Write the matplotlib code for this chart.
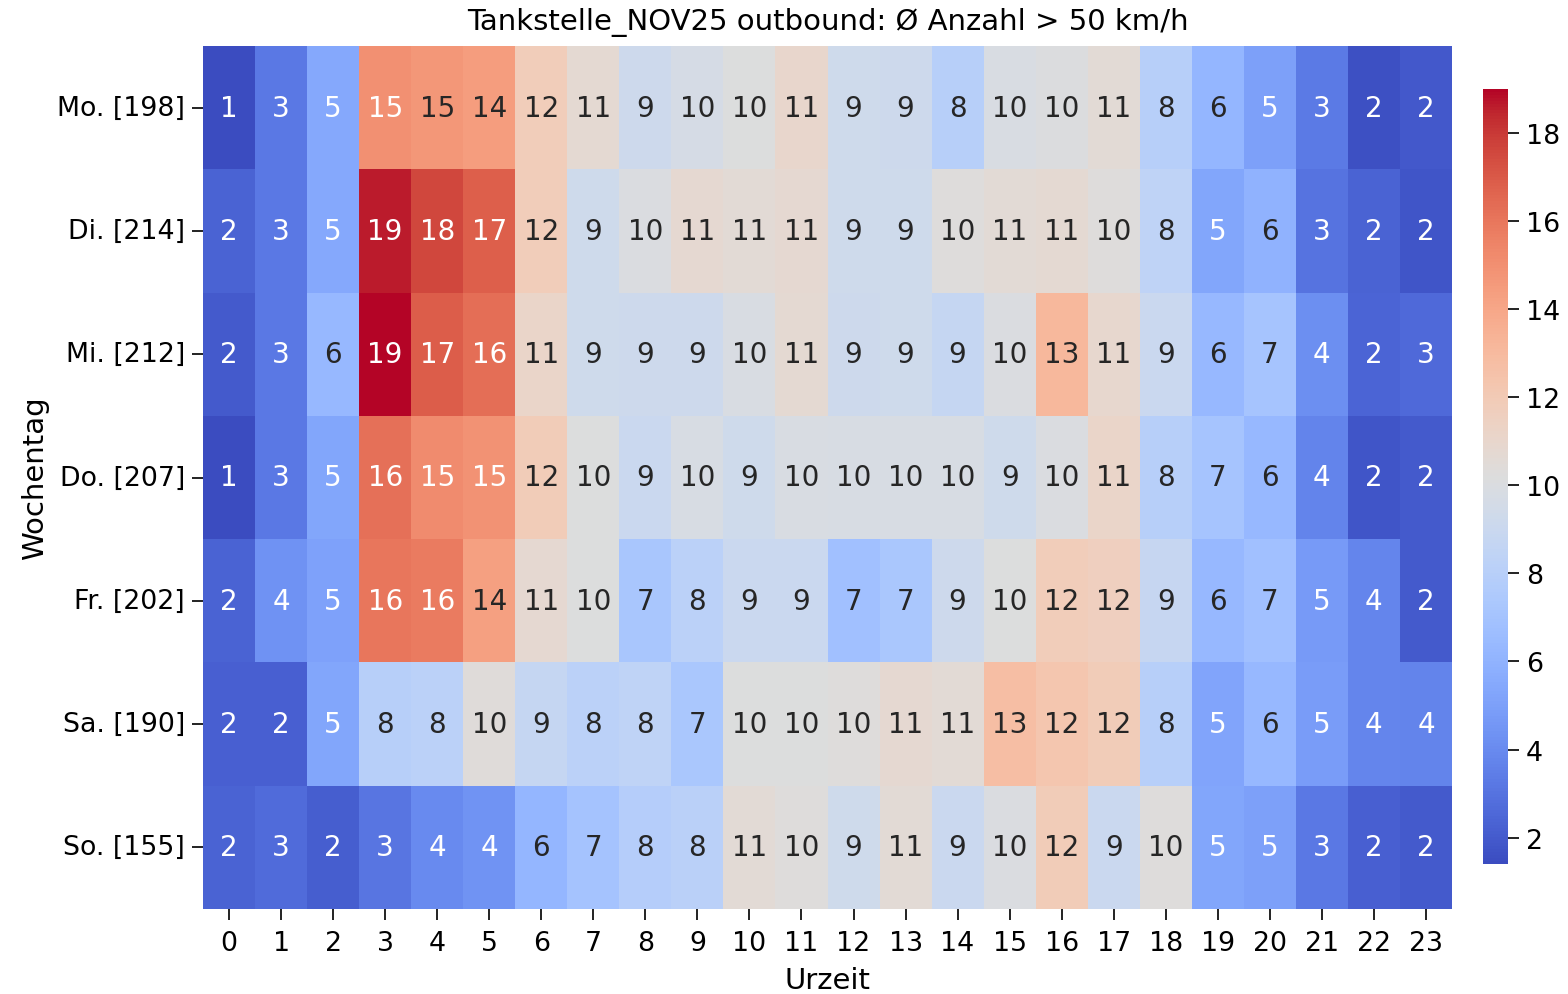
import numpy as np
import matplotlib
matplotlib.use("Agg")
import matplotlib.pyplot as plt
import seaborn as sns

days = ["Mo. [198]", "Di. [214]", "Mi. [212]", "Do. [207]", "Fr. [202]", "Sa. [190]", "So. [155]"]
hours = [str(h) for h in range(24)]

mo = [1.4, 3.2, 5.4, 14.95, 14.7, 14.4, 11.8, 10.7, 9.2, 9.7, 10.2, 11.0, 9.3, 9.2, 8.0, 9.9, 10.1, 10.6, 8.0, 6.2, 5.0, 3.3, 1.6, 1.9]
di = [2.3, 3.2, 5.4, 18.6, 17.6, 16.8, 11.8, 9.3, 10.0, 10.8, 10.6, 10.8, 9.3, 9.3, 10.3, 10.6, 10.7, 10.3, 8.4, 5.3, 6.0, 3.0, 2.3, 1.8]
mi = [2.0, 3.2, 6.3, 19.0, 16.9, 16.3, 11.1, 9.3, 9.2, 9.2, 9.9, 10.7, 9.2, 9.3, 8.7, 10.0, 13.1, 10.9, 9.0, 6.3, 7.1, 4.2, 2.4, 2.6]
do = [1.4, 3.2, 5.3, 16.2, 15.2, 14.9, 11.9, 10.2, 9.0, 9.8, 9.3, 9.9, 9.8, 9.8, 9.8, 9.3, 10.0, 11.1, 8.0, 7.1, 6.3, 3.7, 1.8, 2.0]
fr = [2.3, 4.3, 5.1, 16.0, 15.8, 14.3, 10.8, 10.2, 7.2, 8.2, 9.0, 9.0, 6.8, 7.3, 9.2, 10.2, 11.8, 11.6, 8.8, 6.3, 6.8, 4.7, 3.8, 2.0]
sa = [2.2, 2.2, 5.3, 8.0, 8.2, 10.4, 8.7, 8.2, 8.4, 7.3, 10.2, 10.2, 10.3, 10.8, 10.6, 12.8, 12.3, 11.9, 8.0, 5.2, 6.3, 4.8, 3.8, 3.7]
so = [2.3, 2.7, 2.1, 3.1, 4.0, 4.4, 6.2, 7.0, 7.8, 8.1, 10.6, 10.3, 9.3, 10.6, 9.0, 10.0, 11.9, 9.0, 10.3, 5.3, 5.0, 3.2, 2.2, 2.0]

data = np.array([mo, di, mi, do, fr, sa, so])

fig = plt.figure(figsize=(15.68, 9.95), dpi=100)
ax = fig.add_axes([203/1568, 1 - 910/995, (1452-203)/1568, (910-47)/995])
cax = fig.add_axes([1483/1568, 1 - 865/995, 25/1568, (865-90)/995])

TICK_FS = 19.3
sns.heatmap(data, ax=ax, cbar_ax=cax, cmap="coolwarm", annot=True, fmt=".0f",
            annot_kws={"fontsize": 20}, xticklabels=hours, yticklabels=days)

# text colour: white on strongly coloured cells (as in reference)
for txt, val in zip(ax.texts, data.flatten()):
    if val >= 14.8:
        txt.set_color("w")

ax.set_yticklabels(days, rotation=0, fontsize=TICK_FS)
ax.set_xticklabels(hours, rotation=0, fontsize=TICK_FS)
ax.tick_params(length=8, width=1.4, pad=5, color="#222222")
ax.tick_params(axis="x", pad=7)
ax.set_xlabel("Urzeit", fontsize=21, labelpad=7)
ax.set_ylabel("Wochentag", fontsize=21, labelpad=6)
ax.set_title("Tankstelle_NOV25 outbound: Ø Anzahl > 50 km/h", fontsize=21, pad=12)
cax.tick_params(labelsize=TICK_FS, length=8, width=1.4, pad=5, color="#222222")

fig.savefig("out.png", dpi=100)
